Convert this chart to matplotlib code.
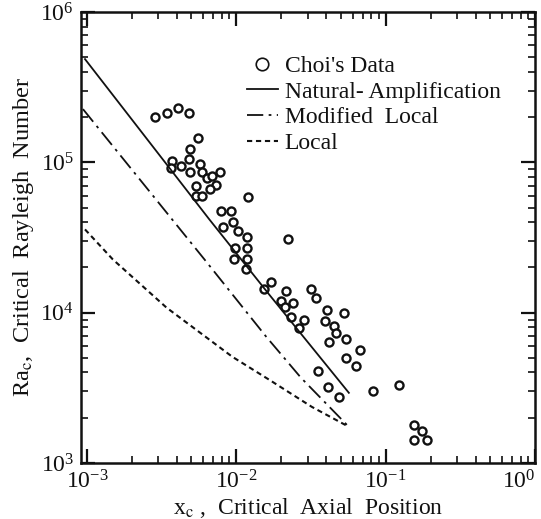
import matplotlib
matplotlib.use("Agg")
import matplotlib.pyplot as plt
from matplotlib.lines import Line2D
from matplotlib.ticker import LogLocator, NullFormatter

plt.rcParams['font.family'] = 'serif'
plt.rcParams['font.serif'] = ['Liberation Serif', 'DejaVu Serif']
plt.rcParams['mathtext.fontset'] = 'stix'

# Choi's experimental data (x_c, Ra_c)
choi_x = [0.00284, 0.00341, 0.0041, 0.00479, 0.00558, 0.00493, 0.00479, 0.00369,
          0.00363, 0.00423, 0.00575, 0.00493, 0.00593, 0.00641, 0.00692, 0.00782,
          0.00736, 0.00541, 0.00671, 0.00533, 0.00593, 0.0120, 0.00794, 0.00926,
          0.00955, 0.00819, 0.0103, 0.01184, 0.0222, 0.00985, 0.01184, 0.0097,
          0.01184, 0.01166, 0.0171, 0.01537, 0.0215, 0.0316, 0.0341, 0.01995,
          0.0212, 0.024, 0.0233, 0.0284, 0.0263, 0.0404, 0.0525, 0.0392,
          0.045, 0.0464, 0.0417, 0.0541, 0.0671, 0.0541, 0.0631, 0.0352,
          0.041, 0.0486, 0.0819, 0.122, 0.156, 0.174, 0.154, 0.19]
choi_y = [2.0e5, 2.12e5, 2.29e5, 2.12e5, 1.445e5, 1.22e5, 1.047e5, 1.016e5,
          9.12e4, 9.4e4, 9.7e4, 8.58e4, 8.58e4, 7.82e4, 8.07e4, 8.58e4,
          7.03e4, 6.92e4, 6.61e4, 5.93e4, 5.93e4, 5.84e4, 4.71e4, 4.71e4,
          4.04e4, 3.69e4, 3.52e4, 3.21e4, 3.11e4, 2.71e4, 2.71e4, 2.29e4,
          2.26e4, 1.94e4, 1.61e4, 1.445e4, 1.40e4, 1.445e4, 1.26e4, 1.2e4,
          1.096e4, 1.166e4, 9.4e3, 8.99e3, 7.94e3, 1.047e4, 1.0e4, 8.85e3,
          8.19e3, 7.36e3, 6.41e3, 6.71e3, 5.67e3, 5.01e3, 4.43e3, 4.11e3,
          3.21e3, 2.75e3, 3.02e3, 3.31e3, 1.79e3, 1.63e3, 1.42e3, 1.42e3]

# Natural-Amplification theory
nat_x = [0.00097, 0.0066, 0.0166, 0.0567]
nat_y = [4.86e5, 4.17e4, 1.32e4, 2.93e3]

# Modified Local theory
modloc_x = [0.00094, 0.00612, 0.01585, 0.0271, 0.0567]
modloc_y = [2.26e5, 2.26e4, 6.92e3, 3.69e3, 1.74e3]

# Local theory
local_x = [0.00097, 0.00149, 0.00341, 0.0094, 0.0166, 0.0321, 0.0567]
local_y = [3.58e4, 2.26e4, 1.08e4, 5.09e3, 3.58e3, 2.36e3, 1.74e3]

labels = ["Choi's Data", "Natural- Amplification", "Modified  Local", "Local"]

W, H = 541, 519
fig = plt.figure(figsize=(W / 100, H / 100), dpi=100)
ax = fig.add_axes([81 / W, (H - 463) / H, 454 / W, 451 / H])

ink = '#111111'
ax.plot(choi_x, choi_y, linestyle='none', marker='o', ms=5.8, mfc='white',
        mec=ink, mew=1.7)
ax.plot(nat_x, nat_y, color=ink, lw=1.3, linestyle='-')
ax.plot(modloc_x, modloc_y, color=ink, lw=1.3, dashes=(9, 3, 1.5, 3))
ax.plot(local_x, local_y, color=ink, lw=1.5, dashes=(2.5, 1.8))

ax.set_xscale('log')
ax.set_yscale('log')
ax.set_xlim(10 ** -3.04, 1.0)
ax.set_ylim(1e3, 1e6)

for a in (ax.xaxis, ax.yaxis):
    a.set_major_locator(LogLocator(base=10, numticks=10))
    a.set_minor_locator(LogLocator(base=10, subs=range(2, 10), numticks=20))
    a.set_minor_formatter(NullFormatter())

ax.tick_params(which='both', direction='in', top=True, right=True, colors=ink)
ax.tick_params(which='major', length=10, width=1.6, labelsize=17)
ax.tick_params(which='minor', length=5, width=1.2)
ax.tick_params(axis='x', which='major', pad=5)
ax.tick_params(axis='y', which='major', pad=5)
for s in ax.spines.values():
    s.set_linewidth(1.8)
    s.set_color(ink)

ax.set_xlabel(r"x$_\mathrm{c}$ ,  Critical  Axial  Position", fontsize=17,
              color=ink, labelpad=2)
ax.set_ylabel(r"Ra$_\mathrm{c}$,  Critical  Rayleigh  Number", fontsize=17.5,
              color=ink, labelpad=3)

handles = [
    Line2D([], [], linestyle='none', marker='o', ms=9, mfc='white', mec=ink, mew=1.2),
    Line2D([], [], color=ink, lw=1.3, linestyle='-'),
    Line2D([], [], color=ink, lw=1.3, dashes=(9, 3, 1.5, 3)),
    Line2D([], [], color=ink, lw=1.5, dashes=(2.5, 1.8)),
]
ax.legend(handles, labels, loc='upper left', bbox_to_anchor=(0.345, 0.925),
          frameon=False, fontsize=17, handlelength=1.3, handletextpad=0.3,
          labelspacing=0.18, borderaxespad=0, labelcolor=ink)

fig.canvas.draw()
for tick in ax.xaxis.get_major_ticks():
    if abs(tick.get_loc() - 1.0) < 1e-9:
        tick.label1.set_horizontalalignment('right')

fig.savefig('out.png', dpi=100, facecolor='white')
